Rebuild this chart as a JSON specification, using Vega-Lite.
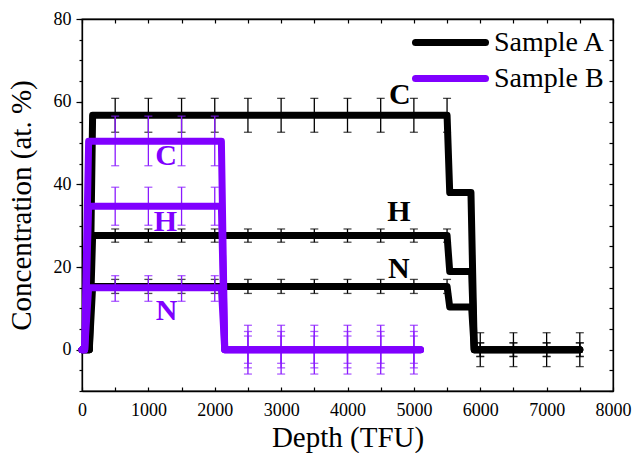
{
  "$schema": "https://vega.github.io/schema/vega-lite/v6.json",
  "width": 531,
  "height": 372,
  "autosize": {"type": "none"},
  "padding": {"left": 82, "top": 19, "right": 21, "bottom": 62},
  "background": "white",
  "config": {
    "view": {"stroke": "black", "strokeWidth": 1.3},
    "font": "Times New Roman",
    "axis": {"grid": false, "domainColor": "black", "domainWidth": 1.3, "tickColor": "black", "tickWidth": 1.2, "labelColor": "black", "labelFont": "Times New Roman", "labelFontSize": 18, "titleFont": "Times New Roman", "titleFontSize": 29, "titleFontWeight": "normal", "titleColor": "black", "labelFlush": false, "labelOverlap": false},
    "legend": {"labelFont": "Times New Roman"}
  },
  "datasets": {
    "lines": [
      {"s": "Sample A", "el": "C", "x": 0, "y": 0}, {"s": "Sample A", "el": "C", "x": 110, "y": 0}, {"s": "Sample A", "el": "C", "x": 160, "y": 56.7}, {"s": "Sample A", "el": "C", "x": 5500, "y": 56.7}, {"s": "Sample A", "el": "C", "x": 5540, "y": 38}, {"s": "Sample A", "el": "C", "x": 5860, "y": 38}, {"s": "Sample A", "el": "C", "x": 5910, "y": 0}, {"s": "Sample A", "el": "C", "x": 7500, "y": 0},
      {"s": "Sample A", "el": "H", "x": 0, "y": 0}, {"s": "Sample A", "el": "H", "x": 110, "y": 0}, {"s": "Sample A", "el": "H", "x": 160, "y": 27.6}, {"s": "Sample A", "el": "H", "x": 5500, "y": 27.6}, {"s": "Sample A", "el": "H", "x": 5540, "y": 18.9}, {"s": "Sample A", "el": "H", "x": 5870, "y": 18.9}, {"s": "Sample A", "el": "H", "x": 5910, "y": 0}, {"s": "Sample A", "el": "H", "x": 7500, "y": 0},
      {"s": "Sample A", "el": "N", "x": 0, "y": 0}, {"s": "Sample A", "el": "N", "x": 110, "y": 0}, {"s": "Sample A", "el": "N", "x": 160, "y": 15.3}, {"s": "Sample A", "el": "N", "x": 5500, "y": 15.3}, {"s": "Sample A", "el": "N", "x": 5540, "y": 10.3}, {"s": "Sample A", "el": "N", "x": 5870, "y": 10.3}, {"s": "Sample A", "el": "N", "x": 5910, "y": 0}, {"s": "Sample A", "el": "N", "x": 7500, "y": 0},
      {"s": "Sample B", "el": "C", "x": 0, "y": 0}, {"s": "Sample B", "el": "C", "x": 40, "y": 0}, {"s": "Sample B", "el": "C", "x": 100, "y": 50.4}, {"s": "Sample B", "el": "C", "x": 2100, "y": 50.4}, {"s": "Sample B", "el": "C", "x": 2150, "y": 0}, {"s": "Sample B", "el": "C", "x": 5100, "y": 0},
      {"s": "Sample B", "el": "H", "x": 0, "y": 0}, {"s": "Sample B", "el": "H", "x": 40, "y": 0}, {"s": "Sample B", "el": "H", "x": 100, "y": 34.7}, {"s": "Sample B", "el": "H", "x": 2100, "y": 34.7}, {"s": "Sample B", "el": "H", "x": 2150, "y": 0}, {"s": "Sample B", "el": "H", "x": 5100, "y": 0},
      {"s": "Sample B", "el": "N", "x": 0, "y": 0}, {"s": "Sample B", "el": "N", "x": 40, "y": 0}, {"s": "Sample B", "el": "N", "x": 100, "y": 15.0}, {"s": "Sample B", "el": "N", "x": 2100, "y": 15.0}, {"s": "Sample B", "el": "N", "x": 2150, "y": 0}, {"s": "Sample B", "el": "N", "x": 5100, "y": 0}
    ],
    "errA": [
      {"x": 500, "y": 56.7, "e": 4.1}, {"x": 1000, "y": 56.7, "e": 4.1}, {"x": 1500, "y": 56.7, "e": 4.1}, {"x": 2000, "y": 56.7, "e": 4.1}, {"x": 2500, "y": 56.7, "e": 4.1}, {"x": 3000, "y": 56.7, "e": 4.1}, {"x": 3500, "y": 56.7, "e": 4.1}, {"x": 4000, "y": 56.7, "e": 4.1}, {"x": 4500, "y": 56.7, "e": 4.1}, {"x": 5000, "y": 56.7, "e": 4.1}, {"x": 5500, "y": 56.7, "e": 4.1},
      {"x": 500, "y": 27.6, "e": 1.6}, {"x": 1000, "y": 27.6, "e": 1.6}, {"x": 1500, "y": 27.6, "e": 1.6}, {"x": 2000, "y": 27.6, "e": 1.6}, {"x": 2500, "y": 27.6, "e": 1.6}, {"x": 3000, "y": 27.6, "e": 1.6}, {"x": 3500, "y": 27.6, "e": 1.6}, {"x": 4000, "y": 27.6, "e": 1.6}, {"x": 4500, "y": 27.6, "e": 1.6}, {"x": 5000, "y": 27.6, "e": 1.6}, {"x": 5500, "y": 27.6, "e": 1.6},
      {"x": 500, "y": 15.3, "e": 1.7}, {"x": 1000, "y": 15.3, "e": 1.7}, {"x": 1500, "y": 15.3, "e": 1.7}, {"x": 2000, "y": 15.3, "e": 1.7}, {"x": 2500, "y": 15.3, "e": 1.7}, {"x": 3000, "y": 15.3, "e": 1.7}, {"x": 3500, "y": 15.3, "e": 1.7}, {"x": 4000, "y": 15.3, "e": 1.7}, {"x": 4500, "y": 15.3, "e": 1.7}, {"x": 5000, "y": 15.3, "e": 1.7}, {"x": 5500, "y": 15.3, "e": 1.7},
      {"x": 6000, "y": 0, "e": 4.1}, {"x": 6500, "y": 0, "e": 4.1}, {"x": 7000, "y": 0, "e": 4.1}, {"x": 7500, "y": 0, "e": 4.1},
      {"x": 6000, "y": 0, "e": 1.6}, {"x": 6500, "y": 0, "e": 1.6}, {"x": 7000, "y": 0, "e": 1.6}, {"x": 7500, "y": 0, "e": 1.6},
      {"x": 6000, "y": 0, "e": 1.7}, {"x": 6500, "y": 0, "e": 1.7}, {"x": 7000, "y": 0, "e": 1.7}, {"x": 7500, "y": 0, "e": 1.7}
    ],
    "errB": [
      {"x": 500, "y": 50.5, "e": 6.0}, {"x": 1000, "y": 50.5, "e": 6.0}, {"x": 1500, "y": 50.5, "e": 6.0}, {"x": 2000, "y": 50.5, "e": 6.0},
      {"x": 500, "y": 34.7, "e": 4.6}, {"x": 1000, "y": 34.7, "e": 4.6}, {"x": 1500, "y": 34.7, "e": 4.6}, {"x": 2000, "y": 34.7, "e": 4.6},
      {"x": 500, "y": 14.8, "e": 3.1}, {"x": 1000, "y": 14.8, "e": 3.1}, {"x": 1500, "y": 14.8, "e": 3.1}, {"x": 2000, "y": 14.8, "e": 3.1},
      {"x": 2500, "y": 0, "e": 5.9}, {"x": 3000, "y": 0, "e": 5.9}, {"x": 3500, "y": 0, "e": 5.9}, {"x": 4000, "y": 0, "e": 5.9}, {"x": 4500, "y": 0, "e": 5.9}, {"x": 5000, "y": 0, "e": 5.9},
      {"x": 2500, "y": 0, "e": 4.4}, {"x": 3000, "y": 0, "e": 4.4}, {"x": 3500, "y": 0, "e": 4.4}, {"x": 4000, "y": 0, "e": 4.4}, {"x": 4500, "y": 0, "e": 4.4}, {"x": 5000, "y": 0, "e": 4.4},
      {"x": 2500, "y": 0, "e": 3.3}, {"x": 3000, "y": 0, "e": 3.3}, {"x": 3500, "y": 0, "e": 3.3}, {"x": 4000, "y": 0, "e": 3.3}, {"x": 4500, "y": 0, "e": 3.3}, {"x": 5000, "y": 0, "e": 3.3}
    ],
    "labels": [
      {"s": "Sample A", "t": "C", "x": 4790, "y": 61.6},
      {"s": "Sample A", "t": "H", "x": 4775, "y": 33.2},
      {"s": "Sample A", "t": "N", "x": 4775, "y": 19.5},
      {"s": "Sample B", "t": "C", "x": 1266, "y": 46.8},
      {"s": "Sample B", "t": "H", "x": 1257, "y": 30.9},
      {"s": "Sample B", "t": "N", "x": 1275, "y": 9.3}
    ]
  },
  "layer": [
    {
      "data": {"name": "lines"},
      "transform": [{"filter": "datum.s === 'Sample A'"}],
      "mark": {"type": "line", "strokeWidth": 7, "strokeCap": "round", "strokeJoin": "round"},
      "encoding": {
        "x": {"field": "x", "type": "quantitative", "scale": {"domain": [0, 8000], "nice": false, "zero": false},
          "axis": {"orient": "bottom", "values": [0, 500, 1000, 1500, 2000, 2500, 3000, 3500, 4000, 4500, 5000, 5500, 6000, 6500, 7000, 7500, 8000], "labelExpr": "datum.value % 1000 === 0 ? datum.label : ''", "format": "d", "tickSize": -4, "labelPadding": 14, "labelFont": "Times New Roman", "labelFontSize": 18, "title": "Depth (TFU)", "titleFont": "Times New Roman", "titleFontSize": 29, "titleFontWeight": "normal", "titlePadding": 4}},
        "y": {"field": "y", "type": "quantitative", "scale": {"domain": [-10, 80], "nice": false, "zero": false},
          "axis": {"orient": "left", "values": [0, 20, 40, 60, 80], "format": "d", "tickSize": 6, "labelPadding": 5, "labelFont": "Times New Roman", "labelFontSize": 18, "title": "Concentration (at. %)", "titleFont": "Times New Roman", "titleFontSize": 29, "titleFontWeight": "normal", "titlePadding": 17}},
        "color": {"field": "s", "type": "nominal", "scale": {"domain": ["Sample A", "Sample B"], "range": ["#000000", "#8000FF"]},
          "legend": {"orient": "none", "legendX": 351, "legendY": 6, "title": null, "symbolType": "M-2.5,0H2.5", "symbolSize": 784, "symbolStrokeWidth": 7, "symbolFillColor": "transparent", "labelFont": "Times New Roman", "labelFontSize": 28, "labelColor": "black", "labelOffset": 26, "rowPadding": 4, "padding": 0,
            "encode": {"symbols": {"update": {"strokeCap": {"value": "round"}}}}}},
        "detail": {"field": "el", "type": "nominal"}
      }
    },
    {
      "data": {"name": "errA"},
      "mark": {"type": "errorbar", "ticks": true, "color": "black", "thickness": 1.3, "size": 8},
      "encoding": {
        "x": {"field": "x", "type": "quantitative", "scale": {"domain": [0, 8000], "nice": false, "zero": false},
          "axis": {"orient": "top", "values": [0, 500, 1000, 1500, 2000, 2500, 3000, 3500, 4000, 4500, 5000, 5500, 6000, 6500, 7000, 7500, 8000], "labels": false, "tickSize": -4, "title": null}},
        "y": {"field": "y", "type": "quantitative", "scale": {"domain": [-10, 80], "nice": false, "zero": false},
          "axis": {"orient": "right", "values": [-10, -5, 0, 5, 10, 15, 20, 25, 30, 35, 40, 45, 50, 55, 60, 65, 70, 75, 80], "labels": false, "tickSize": -4, "title": null}},
        "yError": {"field": "e"}
      }
    },
    {
      "data": {"name": "errB"},
      "mark": {"type": "errorbar", "ticks": true, "color": "#8A1AFF", "thickness": 1.3, "size": 8},
      "encoding": {
        "x": {"field": "x", "type": "quantitative", "scale": {"domain": [0, 8000], "nice": false, "zero": false}, "axis": null},
        "y": {"field": "y", "type": "quantitative", "scale": {"domain": [-10, 80], "nice": false, "zero": false},
          "axis": {"orient": "left", "values": [-10, -5, 0, 5, 10, 15, 20, 25, 30, 35, 40, 45, 50, 55, 60, 65, 70, 75, 80], "labels": false, "tickSize": 3, "domain": false, "title": null}},
        "yError": {"field": "e"}
      }
    },
    {
      "data": {"name": "lines"},
      "transform": [{"filter": "datum.s === 'Sample B'"}],
      "mark": {"type": "line", "strokeWidth": 7, "strokeCap": "round", "strokeJoin": "round"},
      "encoding": {
        "x": {"field": "x", "type": "quantitative", "scale": {"domain": [0, 8000], "nice": false, "zero": false}, "axis": null},
        "y": {"field": "y", "type": "quantitative", "scale": {"domain": [-10, 80], "nice": false, "zero": false}, "axis": null},
        "color": {"field": "s", "type": "nominal"},
        "detail": {"field": "el", "type": "nominal"}
      }
    },
    {
      "data": {"name": "labels"},
      "transform": [{"filter": "datum.s === 'Sample A'"}],
      "mark": {"type": "text", "font": "Times New Roman", "fontSize": 30, "fontWeight": "bold", "color": "black", "align": "center", "baseline": "middle"},
      "encoding": {
        "x": {"field": "x", "type": "quantitative", "scale": {"domain": [0, 8000], "nice": false, "zero": false}, "axis": null},
        "y": {"field": "y", "type": "quantitative", "scale": {"domain": [-10, 80], "nice": false, "zero": false}, "axis": null},
        "text": {"field": "t"}
      }
    },
    {
      "data": {"name": "labels"},
      "transform": [{"filter": "datum.s === 'Sample B'"}],
      "mark": {"type": "text", "font": "Times New Roman", "fontSize": 30, "fontWeight": "bold", "color": "#8000FF", "align": "center", "baseline": "middle"},
      "encoding": {
        "x": {"field": "x", "type": "quantitative", "scale": {"domain": [0, 8000], "nice": false, "zero": false}, "axis": null},
        "y": {"field": "y", "type": "quantitative", "scale": {"domain": [-10, 80], "nice": false, "zero": false}, "axis": null},
        "text": {"field": "t"}
      }
    }
  ],
  "resolve": {"axis": {"x": "independent", "y": "independent"}}
}
